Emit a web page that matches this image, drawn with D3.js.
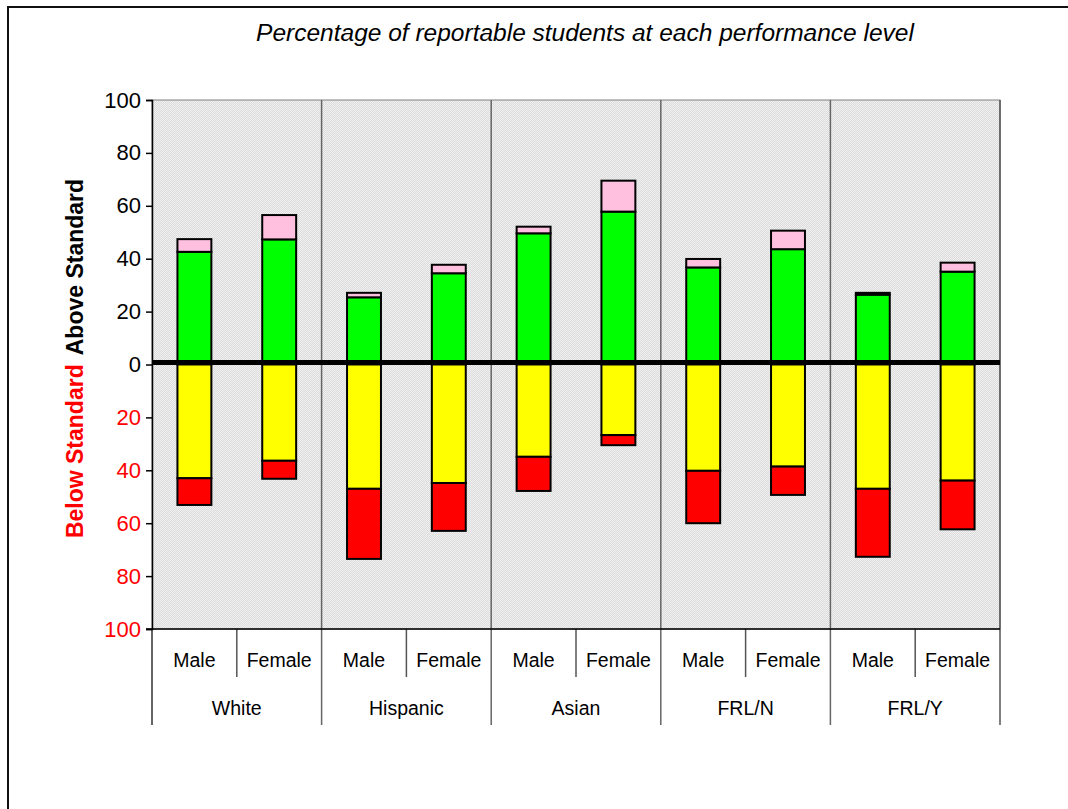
<!DOCTYPE html>
<html><head><meta charset="utf-8">
<script src="https://cdn.jsdelivr.net/npm/d3@7"></script>
<style>body{margin:0;background:#fff} svg{display:block}</style>
</head><body><svg id="c" width="1068" height="809"></svg>
<script>
const groups = ["White", "Hispanic", "Asian", "FRL/N", "FRL/Y"];
const genders = ["Male", "Female"];
// percentages, order: White M, White F, Hispanic M, Hispanic F, Asian M, Asian F, FRL/N M, FRL/N F, FRL/Y M, FRL/Y F
const level3 = [42.6, 47.3, 25.4, 34.5, 49.6, 57.8, 36.7, 43.6, 26.4, 35.1]; // green (above)
const level4 = [4.8, 9.2, 1.7, 3.2, 2.5, 11.7, 3.2, 7.0, 0.7, 3.4];        // pink (above)
const level2 = [43.0, 36.4, 47.0, 44.8, 34.9, 26.7, 40.2, 38.6, 47.0, 43.9]; // yellow (below)
const level1 = [10.1, 6.8, 26.5, 18.1, 12.9, 3.8, 19.8, 10.7, 25.7, 18.4];  // red (below)
const yTicks = [-100, -80, -60, -40, -20, 0, 20, 40, 60, 80, 100];
const titleText = "Percentage of reportable students at each performance level";

const svg = d3.select("#c");
const P = {left: 152, right: 1000, top: 100, bottom: 629};
const FONT = "'Liberation Sans', Arial, sans-serif";
const cats = groups.flatMap(g => genders.map(s => g + "|" + s));
const x = d3.scaleBand().domain(cats).range([P.left, P.right]).padding(0);
const y = d3.scaleLinear().domain([-100, 100]).range([P.bottom, P.top]);
const bw = x.bandwidth() * 0.4;

// pattern background
const defs = svg.append("defs");
const pat = defs.append("pattern").attr("id", "dots").attr("width", 2).attr("height", 2).attr("patternUnits", "userSpaceOnUse");
pat.append("rect").attr("width", 2).attr("height", 2).attr("fill", "#dcdcdc");
pat.append("rect").attr("x", 0).attr("y", 0).attr("width", 1).attr("height", 1).attr("fill", "#f0f0f0");
pat.append("rect").attr("x", 1).attr("y", 1).attr("width", 1).attr("height", 1).attr("fill", "#f0f0f0");

// outer frame
svg.append("rect").attr("x", 8).attr("y", 7).attr("width", 1200).attr("height", 1000)
  .attr("fill", "#fff").attr("stroke", "#111").attr("stroke-width", 2);

svg.append("rect").attr("x", P.left).attr("y", P.top).attr("width", P.right - P.left).attr("height", P.bottom - P.top)
  .attr("fill", "url(#dots)").attr("stroke", "#808080").attr("stroke-width", 1);

// title
svg.append("text").attr("x", 585).attr("y", 41).attr("text-anchor", "middle")
  .attr("font-family", FONT).attr("font-style", "italic").attr("font-size", 24.5).attr("fill", "#000")
  .text(titleText);

// group separators (inside plot and down through category axis)
groups.forEach((g, i) => {
  if (i === 0) return;
  const gx = x(g + "|Male");
  svg.append("line").attr("x1", gx).attr("x2", gx).attr("y1", P.top).attr("y2", 725)
    .attr("stroke", "#666").attr("stroke-width", 1.5);
});
svg.append("line").attr("x1", P.right).attr("x2", P.right).attr("y1", P.top).attr("y2", 725)
  .attr("stroke", "#555").attr("stroke-width", 1.5);
svg.append("line").attr("x1", P.left).attr("x2", P.left).attr("y1", P.bottom).attr("y2", 725)
  .attr("stroke", "#333").attr("stroke-width", 1.5);
// male/female separators in axis area
groups.forEach(g => {
  const mx = x(g + "|Female");
  svg.append("line").attr("x1", mx).attr("x2", mx).attr("y1", P.bottom).attr("y2", 677)
    .attr("stroke", "#555").attr("stroke-width", 1.5);
});

// bars
const rows = cats.map((c, i) => ({c, l1: level1[i], l2: level2[i], l3: level3[i], l4: level4[i]}));
const segs = [];
rows.forEach(r => {
  segs.push({c: r.c, y0: 0, y1: r.l3, fill: "#00ff00"});
  segs.push({c: r.c, y0: r.l3, y1: r.l3 + r.l4, fill: "#ffc0e0"});
  segs.push({c: r.c, y0: 0, y1: -r.l2, fill: "#ffff00"});
  segs.push({c: r.c, y0: -r.l2, y1: -(r.l2 + r.l1), fill: "#ff0000"});
});
svg.append("g").selectAll("rect").data(segs).join("rect")
  .attr("x", d => x(d.c) + (x.bandwidth() - bw) / 2)
  .attr("width", bw)
  .attr("y", d => y(Math.max(d.y0, d.y1)))
  .attr("height", d => Math.abs(y(d.y0) - y(d.y1)))
  .attr("fill", d => d.fill).attr("stroke", "#000").attr("stroke-width", 2);

// zero line
svg.append("line").attr("x1", P.left).attr("x2", P.right).attr("y1", y(0) - 2).attr("y2", y(0) - 2)
  .attr("stroke", "#000").attr("stroke-width", 5);

// y axis
const yAxis = svg.append("g").attr("transform", `translate(${P.left},0)`)
  .call(d3.axisLeft(y).tickValues(yTicks).tickFormat(d => Math.abs(d)).tickSize(6).tickPadding(5));
yAxis.select(".domain").attr("stroke", "#000").attr("stroke-width", 1.5);
yAxis.selectAll(".tick line").attr("stroke", "#000").attr("stroke-width", 1.5);
yAxis.selectAll(".tick text").attr("font-family", FONT).attr("font-size", 22)
  .attr("fill", d => d < 0 ? "#ff0000" : "#000");

// x axis baseline
svg.append("line").attr("x1", P.left - 6).attr("x2", P.right).attr("y1", P.bottom).attr("y2", P.bottom)
  .attr("stroke", "#000").attr("stroke-width", 1.5);

// category labels
svg.append("g").selectAll("text").data(cats).join("text")
  .attr("x", d => x(d) + x.bandwidth() / 2).attr("y", 667).attr("text-anchor", "middle")
  .attr("font-family", FONT).attr("font-size", 19.5).attr("fill", "#000")
  .text(d => d.split("|")[1]);
svg.append("g").selectAll("text").data(groups).join("text")
  .attr("x", g => x(g + "|Female")).attr("y", 715).attr("text-anchor", "middle")
  .attr("font-family", FONT).attr("font-size", 19.5).attr("fill", "#000")
  .text(g => g);

// y axis title
const yt = svg.append("text").attr("transform", `translate(83,${y(0) - 6}) rotate(-90)`)
  .attr("text-anchor", "middle").attr("font-family", FONT).attr("font-weight", "bold").attr("font-size", 23);
yt.append("tspan").attr("fill", "#ff0000").text("Below Standard");
yt.append("tspan").attr("fill", "#000").attr("dx", 9).text("Above Standard");
</script></body></html>
